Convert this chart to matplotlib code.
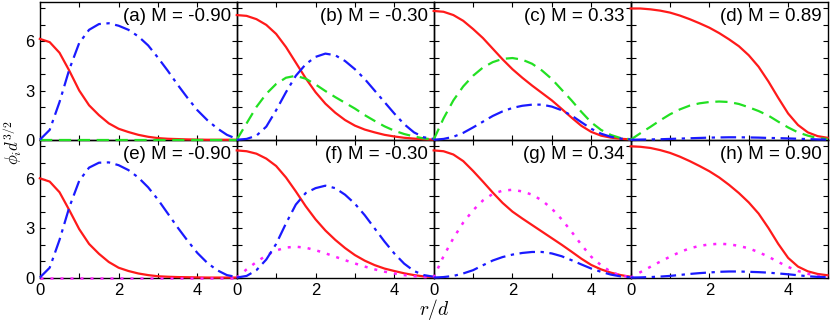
import matplotlib
matplotlib.use('Agg')
import matplotlib.pyplot as plt
from matplotlib.ticker import MultipleLocator

plt.rcParams['font.family'] = ['Liberation Sans', 'DejaVu Sans']
plt.rcParams['mathtext.fontset'] = 'cm'

r = [0, 0.25, 0.5, 0.75, 1, 1.25, 1.5, 1.75, 2, 2.25, 2.5, 2.75,
     3, 3.25, 3.5, 3.75, 4, 4.25, 4.5, 4.75, 5]

titles = ['(a) M = -0.90', '(b) M = -0.30', '(c) M = 0.33', '(d) M = 0.89',
          '(e) M = -0.90', '(f) M = -0.30', '(g) M = 0.34', '(h) M = 0.90']

# red solid
red_a = [6.15, 5.95, 5.3, 4.2, 3.0, 2.1, 1.5, 1.0, 0.67, 0.47, 0.3, 0.18,
         0.1, 0.06, 0.04, 0.02, 0.01, 0.0, 0.0, 0.0, 0.0]
red_b = [7.6, 7.55, 7.35, 7.0, 6.45, 5.65, 4.7, 3.75, 2.9, 2.2, 1.65, 1.2,
         0.86, 0.62, 0.45, 0.3, 0.2, 0.12, 0.07, 0.03, 0.01]
red_c = [7.85, 7.8, 7.6, 7.25, 6.75, 6.2, 5.55, 4.9, 4.3, 3.78, 3.3, 2.85,
         2.4, 1.88, 1.35, 0.85, 0.48, 0.25, 0.13, 0.06, 0.02]
red_d = [8.0, 8.0, 7.95, 7.87, 7.75, 7.57, 7.35, 7.1, 6.83, 6.5, 6.12, 5.7,
         5.15, 4.45, 3.55, 2.55, 1.6, 0.9, 0.45, 0.22, 0.12]
red_e = [6.05, 5.85, 5.2, 4.1, 2.95, 2.05, 1.45, 0.95, 0.6, 0.4, 0.25, 0.15,
         0.08, 0.05, 0.03, 0.02, 0.01, 0.0, 0.0, 0.0, 0.0]
red_f = [7.75, 7.7, 7.55, 7.25, 6.8, 6.1, 5.25, 4.35, 3.55, 2.87, 2.3, 1.8,
         1.37, 1.03, 0.76, 0.55, 0.4, 0.26, 0.15, 0.07, 0.03]
red_g = [7.75, 7.7, 7.5, 7.1, 6.5, 5.85, 5.18, 4.55, 4.02, 3.6, 3.2, 2.8,
         2.4, 2.0, 1.58, 1.15, 0.77, 0.5, 0.3, 0.15, 0.05]
red_h = [8.0, 7.97, 7.9, 7.77, 7.6, 7.37, 7.1, 6.8, 6.48, 6.1, 5.65, 5.15,
         4.58, 3.9, 3.02, 2.05, 1.2, 0.67, 0.38, 0.22, 0.14]

# blue dash-dot
blue_a = [0, 0.6, 2.3, 4.3, 5.9, 6.7, 7.05, 7.1, 6.95, 6.7, 6.3, 5.75,
          5.0, 4.2, 3.35, 2.55, 1.8, 1.2, 0.7, 0.3, 0.05]
blue_b = [0, 0.05, 0.25, 0.8, 1.8, 2.9, 3.9, 4.6, 5.05, 5.25, 5.15, 4.8,
          4.3, 3.7, 3.0, 2.3, 1.6, 0.95, 0.45, 0.15, 0.05]
blue_c = [0, 0.05, 0.18, 0.42, 0.75, 1.1, 1.45, 1.73, 1.94, 2.07, 2.14, 2.14,
          2.02, 1.8, 1.48, 1.07, 0.67, 0.37, 0.18, 0.07, 0.02]
blue_d = [0, 0.01, 0.02, 0.03, 0.05, 0.07, 0.09, 0.11, 0.13, 0.14, 0.15, 0.15,
          0.14, 0.13, 0.11, 0.1, 0.08, 0.06, 0.04, 0.02, 0.01]
blue_e = [0, 0.6, 2.3, 4.3, 5.9, 6.7, 7.0, 7.02, 6.85, 6.55, 6.1, 5.5,
          4.75, 3.9, 3.05, 2.25, 1.5, 0.9, 0.45, 0.15, 0.03]
blue_f = [0, 0.1, 0.45, 1.1, 2.05, 3.3, 4.45, 5.15, 5.45, 5.6, 5.45, 5.05,
          4.5, 3.8, 3.0, 2.2, 1.47, 0.85, 0.4, 0.15, 0.05]
blue_g = [0, 0.03, 0.1, 0.25, 0.45, 0.75, 1.04, 1.25, 1.4, 1.5, 1.56, 1.56,
          1.47, 1.3, 1.06, 0.8, 0.55, 0.35, 0.18, 0.07, 0.02]
blue_h = [0, 0.01, 0.03, 0.06, 0.1, 0.16, 0.22, 0.27, 0.31, 0.35, 0.37, 0.37,
          0.35, 0.33, 0.3, 0.25, 0.2, 0.14, 0.08, 0.04, 0.02]

# green dashed (top row)
green_a = [0, 0, 0, 0, 0, 0, 0, 0, 0, 0, 0, 0, 0, 0, 0, 0, 0, 0, 0, 0, 0]
green_b = [0, 1.0, 2.0, 2.8, 3.4, 3.78, 3.9, 3.72, 3.37, 2.97, 2.6, 2.25,
           1.9, 1.5, 1.15, 0.82, 0.55, 0.35, 0.2, 0.08, 0.02]
green_c = [0, 1.3, 2.4, 3.25, 3.9, 4.4, 4.73, 4.93, 4.98, 4.88, 4.63, 4.22,
           3.7, 3.05, 2.4, 1.7, 1.06, 0.6, 0.29, 0.1, 0.03]
green_d = [0, 0.4, 0.78, 1.18, 1.55, 1.85, 2.08, 2.22, 2.3, 2.33, 2.3, 2.18,
           1.98, 1.75, 1.47, 1.1, 0.75, 0.45, 0.25, 0.1, 0.05]

# magenta dotted (bottom row)
mag_e = [0, 0, 0, 0, 0, 0, 0, 0, 0, 0, 0, 0, 0, 0, 0, 0, 0, 0, 0, 0, 0]
mag_f = [0, 0.5, 0.95, 1.35, 1.65, 1.83, 1.88, 1.82, 1.67, 1.48, 1.27, 1.06,
         0.86, 0.67, 0.5, 0.36, 0.25, 0.15, 0.08, 0.03, 0.01]
mag_g = [0, 1.3, 2.4, 3.35, 4.1, 4.7, 5.1, 5.3, 5.35, 5.25, 5.05, 4.7,
         4.2, 3.55, 2.8, 2.0, 1.27, 0.75, 0.35, 0.12, 0.03]
mag_h = [0, 0.33, 0.65, 0.97, 1.27, 1.55, 1.78, 1.93, 2.02, 2.06, 2.03, 1.93,
         1.78, 1.55, 1.27, 0.95, 0.65, 0.4, 0.23, 0.1, 0.05]

reds = [red_a, red_b, red_c, red_d, red_e, red_f, red_g, red_h]
blues = [blue_a, blue_b, blue_c, blue_d, blue_e, blue_f, blue_g, blue_h]
thirds = [green_a, green_b, green_c, green_d, mag_e, mag_f, mag_g, mag_h]

xticks = [0, 2, 4]
yticks = [0, 3, 6]

fig, axes = plt.subplots(2, 4, figsize=(8.3, 3.22), dpi=100, sharex=True, sharey=True)
fig.subplots_adjust(left=0.048, right=0.997, top=0.994, bottom=0.138, wspace=0, hspace=0)

for i, ax in enumerate(axes.flat):
    # top row drawn last so its zero-level lines sit over the shared edge
    ax.set_zorder(2 if i < 4 else 1)
    ax.patch.set_visible(False)
    ax.plot(r, reds[i], color='#ff1a1a', lw=1.6, zorder=3, clip_on=False)
    if i < 4:
        ax.plot(r, thirds[i], color='#22e022', lw=1.6, dashes=(5.5, 3),
                zorder=4, clip_on=False)
    else:
        ax.plot(r, thirds[i], color='#ff22ff', lw=1.8, dashes=(1.2, 2.8),
                zorder=4, clip_on=False)
    ax.plot(r, blues[i], color='#1a1aff', lw=1.6, dashes=(7, 2.5, 1.5, 2.5),
            zorder=5, clip_on=False)
    ax.text(0.97, 0.955, titles[i], transform=ax.transAxes, ha='right', va='top',
            fontsize=13.5)
    ax.set_xlim(0, 5)
    ax.set_ylim(0, 8.4)
    ax.set_xticks(xticks)
    ax.set_yticks(yticks)
    ax.xaxis.set_minor_locator(MultipleLocator(1))
    ax.yaxis.set_minor_locator(MultipleLocator(1))
    ax.tick_params(which='both', direction='in', top=True, right=True,
                   length=3.5, width=0.8, labelsize=12, pad=4)
    for s in ax.spines.values():
        s.set_linewidth(1.0)

fig.text(0.0155, 0.556, r'$\phi_i d^{3/2}$', rotation=90, ha='center', va='center', fontsize=12)
fig.text(0.523, 0.04, r'$r/d$', ha='center', va='center', fontsize=14)

fig.savefig('out.png', dpi=100)
